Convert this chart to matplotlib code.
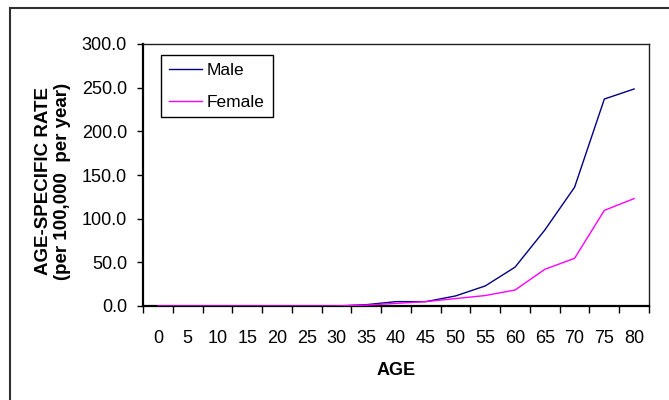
import numpy as np
import matplotlib.pyplot as plt
from matplotlib.patches import Rectangle

plt.rcParams['font.family'] = ['Liberation Sans', 'DejaVu Sans']

# data
ages = ['0', '5', '10', '15', '20', '25', '30', '35', '40', '45',
        '50', '55', '60', '65', '70', '75', '80']
male = [0, 0, 0, 0, 0, 0, 0, 1.5, 5, 5, 11.5, 23, 44.5, 87, 136, 237, 248.5]
female = [0, 0, 0, 0, 0, 0, 0, 1, 3, 5, 8.5, 12, 18.3, 42, 54.6, 109.5, 123]

c_male = '#000080'
c_female = '#FF00FF'

fig = plt.figure(figsize=(6.69, 4.0), dpi=100)
ax = fig.add_axes([143 / 669, 1 - 306 / 400, (649 - 143) / 669, (306 - 44) / 400])

# outer chart border
fig.patches.append(Rectangle((9.5 / 669, -0.1), 1.2, 1 - 8 / 400 + 0.1,
                             transform=fig.transFigure, fill=False,
                             edgecolor='#303030', linewidth=1.5))

x = np.arange(len(ages))
ax.plot(x, male, color=c_male, linewidth=1.0, label='Male', zorder=3)
ax.plot(x, female, color=c_female, linewidth=1.0, label='Female', zorder=4)

ax.set_xlim(-0.5, len(ages) - 0.5)
ax.set_ylim(0, 300)

# category axis: ticks between categories, labels at centers
ax.set_xticks(np.arange(-0.5, len(ages), 1.0))
ax.set_xticklabels([])
ax.set_xticks(x, minor=True)
ax.set_xticklabels(ages, minor=True)
ax.tick_params(axis='x', which='major', direction='out', length=5, width=1)
ax.tick_params(axis='x', which='minor', length=0, pad=17, labelsize=13)

ax.set_yticks(np.arange(0, 301, 50))
ax.set_yticklabels(['%.1f' % v for v in np.arange(0, 301, 50)])
ax.tick_params(axis='y', direction='out', length=4, width=1, pad=7.5,
               labelsize=13)

for s in ['left', 'bottom']:
    ax.spines[s].set_linewidth(1.6)
    ax.spines[s].set_color('black')
for s in ['top', 'right']:
    ax.spines[s].set_linewidth(1.0)
    ax.spines[s].set_color('#202020')

ax.set_xlabel('AGE', fontsize=13, fontweight='bold', labelpad=11)
fig.text(53 / 669, 1 - 181 / 400, 'AGE-SPECIFIC RATE\n(per 100,000  per year)',
         rotation=90, ha='center', va='center', fontsize=13.5,
         fontweight='bold', linespacing=1.15)

leg = ax.legend(loc='upper left', bbox_to_anchor=(161 / 669, 1 - 55 / 400),
                bbox_transform=fig.transFigure, borderaxespad=0,
                fontsize=12.5, frameon=True, fancybox=False, framealpha=1,
                edgecolor='black', handlelength=1.9, handletextpad=0.3,
                labelspacing=0.95, borderpad=0.45)
leg.get_frame().set_linewidth(1.0)

fig.savefig('out.png', dpi=100)
